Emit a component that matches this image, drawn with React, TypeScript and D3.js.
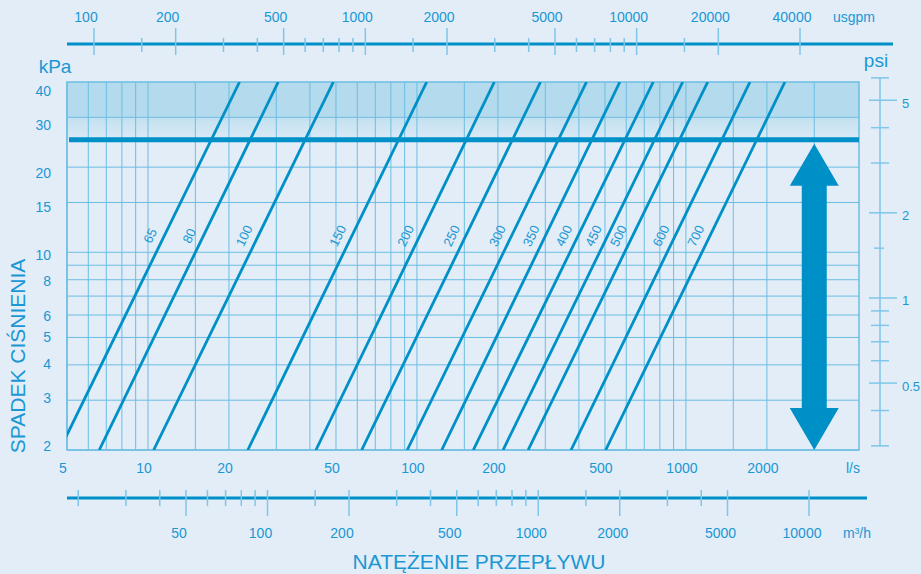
import React from "react";
import * as d3 from "d3";

// ---- data ----
const flowGrid = [5, 6, 7, 8, 9, 10, 15, 20, 30, 40, 50, 60, 70, 80, 90, 100, 150, 200, 300, 400, 500, 600, 700, 800, 900, 1000, 1500, 2000, 3000];
const flowLabels = [5, 10, 20, 50, 100, 200, 500, 1000, 2000];
const pressureGrid = [2, 3, 4, 5, 6, 7, 8, 9, 10, 15, 20, 30];
const pressureLabels = [40, 30, 20, 15, 10, 8, 6, 5, 4, 3, 2];
const sizes = ["65", "80", "100", "150", "200", "250", "300", "350", "400", "450", "500", "600", "700"];
const flowAt2kPa = [4.69, 6.59, 10.5, 23.5, 42.1, 62.3, 92.0, 123.6, 162, 209, 259, 374, 503];
const flowAt40kPa = [21.9, 30.5, 48.9, 108.7, 194, 288, 427, 568, 756, 973, 1205, 1730, 2333];
const usgpmMajor = [100, 200, 500, 1000, 2000, 5000, 10000, 20000, 40000];
const usgpmMinor = [150, 300, 400, 600, 700, 800, 900, 1500, 3000, 4000, 6000, 7000, 8000, 9000, 15000];
const m3hMajor = [50, 100, 200, 500, 1000, 2000, 5000, 10000];
const m3hMinor = [20, 30, 40, 60, 70, 80, 90, 150, 300, 400, 600, 700, 800, 900, 1500, 3000, 4000];
const psiMajor = [0.5, 1, 2, 5];
const psiMinor = [0.3, 0.4, 0.6, 0.7, 0.8, 0.9, 3, 4, 6];
const psiShort = [1.5];
const designPressure = 25;
const bandTop = 40;
const bandBottom = 30;
const arrowFlow = 3000;
const labelPressure = 11.4;
const KPA_PER_PSI = 6.895;

// ---- style ----
const BG = "#e2edf8";
const BLUE = "#0090c8";
const GRID = "#6cbde2";
const TICK = "#7fc6e8";
const TEXT = "#1b97d3";
const FONT = "'Liberation Sans', Arial, sans-serif";

export default function App() {
  const W = 921, H = 574;
  const x = d3.scaleLog().domain([5, 4400]).range([67, 859]);
  const y = d3.scaleLog().domain([2, 40]).range([450, 82]);
  const yLab = d3.scaleLog().domain([2, 40]).range([447, 92]);
  const xTop = d3.scaleLog().domain([100, 40000]).range([94, 800]);
  const xBot = d3.scaleLog().domain([50, 10000]).range([186, 809]);
  const yPsi = (v: number) => y(v * KPA_PER_PSI);

  const [x0, x1] = x.range();
  const [yb, yt] = y.range();

  const line = d3.line<[number, number]>().x((d) => x(d[0])).y((d) => y(d[1]));

  const ax = x(arrowFlow);
  const aTop = y(designPressure) + 4;
  const aBot = yb;
  const hw = 24.5, hh = 42, sw = 12.5;
  const arrowPath = [
    [ax, aTop], [ax + hw, aTop + hh], [ax + sw, aTop + hh], [ax + sw, aBot - hh], [ax + hw, aBot - hh],
    [ax, aBot], [ax - hw, aBot - hh], [ax - sw, aBot - hh], [ax - sw, aTop + hh], [ax - hw, aTop + hh],
  ].map((p, i) => (i ? "L" : "M") + p[0] + "," + p[1]).join("") + "Z";

  return (
    <svg width={W} height={H} style={{ position: "absolute", left: 0, top: 0 }} fontFamily={FONT}>
      <defs>
        <clipPath id="plot">
          <rect x={x0} y={yt} width={x1 - x0} height={yb - yt} />
        </clipPath>
        <linearGradient id="band" x1="0" y1="0" x2="0" y2="1">
          <stop offset="0" stopColor="#c2e0f0" />
          <stop offset="1" stopColor="#dbeaf6" />
        </linearGradient>
      </defs>
      <rect width={W} height={H} fill={BG} />

      {/* shaded band */}
      <rect x={x0} y={y(bandTop)} width={x1 - x0} height={y(bandBottom) - y(bandTop)} fill="#b4daed" />
      <rect x={x0} y={y(bandBottom)} width={x1 - x0} height={y(designPressure) - y(bandBottom)} fill="url(#band)" />

      {/* grid */}
      {flowGrid.map((f) => (
        <line key={"vx" + f} x1={x(f)} x2={x(f)} y1={yt} y2={yb} stroke={GRID} strokeWidth={1} />
      ))}
      {pressureGrid.map((p) => (
        <line key={"hy" + p} x1={x0} x2={x1} y1={y(p)} y2={y(p)} stroke={GRID} strokeWidth={1} />
      ))}
      <rect x={x0} y={yt} width={x1 - x0} height={yb - yt} fill="none" stroke={GRID} strokeWidth={1.5} />

      {/* valve lines */}
      <g clipPath="url(#plot)">
        {sizes.map((s, i) => (
          <path key={"l" + s} d={line([[flowAt2kPa[i], 2], [flowAt40kPa[i], 40]]) || ""} stroke={BLUE} strokeWidth={2.8} fill="none" />
        ))}
      </g>
      {sizes.map((s, i) => {
        const t = Math.log(labelPressure / 2) / Math.log(20);
        const q = Math.exp(Math.log(flowAt2kPa[i]) + t * (Math.log(flowAt40kPa[i]) - Math.log(flowAt2kPa[i])));
        const dx = x(flowAt40kPa[i]) - x(flowAt2kPa[i]);
        const dy = y(2) - y(40);
        const ang = (Math.atan2(dy, dx) * 180) / Math.PI;
        const lx = x(q) - 13, ly = y(labelPressure);
        return (
          <text key={"t" + s} x={lx} y={ly} transform={`rotate(${-ang},${lx},${ly})`} textAnchor="middle" dominantBaseline="middle" fontSize={13} fill={TEXT}>
            {s}
          </text>
        );
      })}

      {/* design pressure line */}
      <line x1={x0 + 2} x2={x1} y1={y(designPressure)} y2={y(designPressure)} stroke={BLUE} strokeWidth={5} />

      {/* arrow */}
      <path d={arrowPath} fill={BLUE} />

      {/* left labels */}
      {pressureLabels.map((p) => (
        <text key={"yl" + p} x={51} y={yLab(p)} textAnchor="end" dominantBaseline="middle" fontSize={14} fill={TEXT}>
          {p}
        </text>
      ))}
      <text x={55} y={73} textAnchor="middle" fontSize={19} fill={TEXT}>kPa</text>
      <text x={19} y={356} transform="rotate(-90,19,356)" textAnchor="middle" dominantBaseline="middle" fontSize={21} fill={TEXT}>
        SPADEK CIŚNIENIA
      </text>

      {/* l/s labels */}
      {flowLabels.map((f) => (
        <text key={"xl" + f} x={x(f) - 4} y={473} textAnchor="middle" fontSize={14} fill={TEXT}>
          {f}
        </text>
      ))}
      <text x={853} y={473} textAnchor="middle" fontSize={14} fill={TEXT}>l/s</text>

      {/* top usgpm axis */}
      <line x1={67} x2={893} y1={44} y2={44} stroke={BLUE} strokeWidth={3} />
      {usgpmMinor.map((v) => (
        <line key={"um" + v} x1={xTop(v)} x2={xTop(v)} y1={38} y2={52} stroke={TICK} strokeWidth={1.5} />
      ))}
      {usgpmMajor.map((v) => (
        <g key={"uM" + v}>
          <line x1={xTop(v)} x2={xTop(v)} y1={28} y2={55} stroke={TICK} strokeWidth={1.5} />
          <text x={xTop(v) - 8} y={22} textAnchor="middle" fontSize={14} fill={TEXT}>{v}</text>
        </g>
      ))}
      <text x={854} y={22} textAnchor="middle" fontSize={14} fill={TEXT}>usgpm</text>

      {/* bottom m3/h axis */}
      <line x1={67} x2={867} y1={498} y2={498} stroke={BLUE} strokeWidth={3} />
      {m3hMinor.map((v) => (
        <line key={"mm" + v} x1={xBot(v)} x2={xBot(v)} y1={490} y2={506} stroke={TICK} strokeWidth={1.5} />
      ))}
      {m3hMajor.map((v) => (
        <g key={"mM" + v}>
          <line x1={xBot(v)} x2={xBot(v)} y1={490} y2={516} stroke={TICK} strokeWidth={1.5} />
          <text x={xBot(v) - 7} y={538} textAnchor="middle" fontSize={14} fill={TEXT}>{v}</text>
        </g>
      ))}
      <text x={857} y={538} textAnchor="middle" fontSize={14} fill={TEXT}>m³/h</text>
      <text x={479} y={569} textAnchor="middle" fontSize={21} fill={TEXT}>NATĘŻENIE PRZEPŁYWU</text>

      {/* right psi axis */}
      <line x1={880} x2={880} y1={yPsi(6)} y2={yPsi(0.3)} stroke={TICK} strokeWidth={1.5} />
      {psiMinor.map((v) => (
        <line key={"pm" + v} x1={871} x2={889} y1={yPsi(v)} y2={yPsi(v)} stroke={TICK} strokeWidth={1.5} />
      ))}
      {psiShort.map((v) => (
        <line key={"ps" + v} x1={874} x2={884} y1={yPsi(v)} y2={yPsi(v)} stroke={TICK} strokeWidth={1.5} />
      ))}
      {psiMajor.map((v) => (
        <g key={"pM" + v}>
          <line x1={869} x2={897} y1={yPsi(v)} y2={yPsi(v)} stroke={TICK} strokeWidth={1.5} />
          <text x={902} y={yPsi(v) + 4} dominantBaseline="middle" fontSize={13} fill={TEXT}>{v}</text>
        </g>
      ))}
      <text x={876} y={67} textAnchor="middle" fontSize={19} fill={TEXT}>psi</text>
    </svg>
  );
}
